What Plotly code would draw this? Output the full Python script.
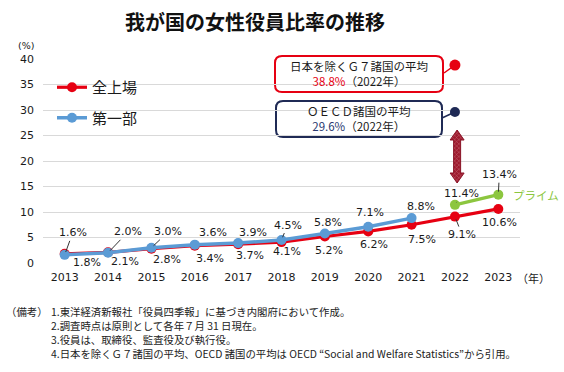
import plotly.graph_objects as go

# ---------------- data ----------------
years_all = [2013, 2014, 2015, 2016, 2017, 2018, 2019, 2020, 2021, 2022, 2023]
all_listed = [1.8, 2.1, 2.8, 3.4, 3.7, 4.1, 5.2, 6.2, 7.5, 9.1, 10.6]   # 全上場
years_first = [2013, 2014, 2015, 2016, 2017, 2018, 2019, 2020, 2021]
first_section = [1.6, 2.0, 3.0, 3.6, 3.9, 4.5, 5.8, 7.1, 8.8]            # 第一部
years_prime = [2022, 2023]
prime = [11.4, 13.4]                                                    # プライム
ref_year = 2022
g7_avg = 38.8
oecd_avg = 29.6
y_ticks = [0, 5, 10, 15, 20, 25, 30, 35, 40]

# ---------------- styles ----------------
RED = "#e60012"
BLUE = "#5b9bd5"
GREEN = "#8cc63f"
NAVY = "#1f2a55"
TXT = "#1a1a1a"
NUMF = "DejaVu Sans"
JPF = "Noto Sans CJK JP"

# label offsets (pixels: dx right, dy down) and whether a leader line is drawn
first_off = [(8, -22, True), (20, -21, True), (17, -16, True), (18, -12, False), (15, -11, False),
             (6, -15, True), (3, -11, False), (2, -14, False), (9, -12, False)]
all_off = [(22, 9, False), (17, 9.5, False), (16, 11, False), (15, 12.5, False), (12, 11, False),
           (5, 9.5, False), (4, 14.5, False), (5.5, 13.5, False), (10, 14.5, False), (7, 18, True),
           (1.5, 14, False)]
prime_off = [(7, -11, True), (1, -20, True)]

# plot area in pixels
L, R, T, B = 43, 520, 59, 263
W, H = 564, 372
px_per_year = (R - L) / 11.0
px_per_unit = (B - T) / 40.0


def px2x(p):
    return 2013 + (p - (L + px_per_year / 2)) / px_per_year


def px2y(p):
    return (B - p) / px_per_unit


def PX(p):
    return (p - L) / (R - L)


def PY(p):
    return (B - p) / (B - T)


fig = go.Figure()

fig.add_trace(go.Scatter(
    x=years_all, y=all_listed, mode="lines+markers", name="全上場",
    line=dict(color=RED, width=3.2), marker=dict(size=10, color=RED),
    legendgroup="a", cliponaxis=False))
fig.add_trace(go.Scatter(
    x=years_first, y=first_section, mode="lines+markers", name="第一部",
    line=dict(color=BLUE, width=3.5), marker=dict(size=10, color=BLUE),
    legendgroup="b", cliponaxis=False))
fig.add_trace(go.Scatter(
    x=years_prime, y=prime, mode="lines+markers", name="プライム",
    line=dict(color=GREEN, width=3.2), marker=dict(size=10, color=GREEN),
    showlegend=False, cliponaxis=False))
fig.add_trace(go.Scatter(
    x=[ref_year], y=[g7_avg], mode="markers", marker=dict(size=11, color=RED),
    showlegend=False, cliponaxis=False))
fig.add_trace(go.Scatter(
    x=[ref_year], y=[oecd_avg], mode="markers", marker=dict(size=10, color=NAVY),
    showlegend=False, cliponaxis=False))

# double-headed hatched arrow
cx = ref_year + 0.05
top, bot = px2y(130), px2y(183)
hw, sw = 7 / px_per_year, 3.5 / px_per_year
hh = 10 / px_per_unit
ax_x = [cx, cx + hw, cx + sw, cx + sw, cx + hw, cx, cx - hw, cx - sw, cx - sw, cx - hw, cx]
ax_y = [top, top - hh, top - hh, bot + hh, bot + hh, bot, bot + hh, bot + hh, top - hh, top - hh, top]
fig.add_trace(go.Scatter(
    x=ax_x, y=ax_y, mode="lines", fill="toself", fillcolor="#9e1a2e",
    fillpattern=dict(shape="x", bgcolor="#9e1a2e", fgcolor="#f2c6cc", size=3, solidity=0.25),
    line=dict(color="#8a1226", width=1), showlegend=False, hoverinfo="skip", cliponaxis=False))

ann = []


def add_labels(xs, ys, offs):
    for x, v, (dx, dy, lead) in zip(xs, ys, offs):
        if lead:
            ann.append(dict(x=x, y=v, text=f"{v:.1f}%", showarrow=True, arrowhead=0,
                            arrowwidth=1, arrowcolor="#333333", ax=dx, ay=dy, standoff=3,
                            font=dict(family=NUMF, size=11, color=TXT)))
        else:
            ann.append(dict(x=x, y=v, text=f"{v:.1f}%", showarrow=False,
                            xanchor="center", yanchor="middle",
                            xshift=dx, yshift=-dy,
                            font=dict(family=NUMF, size=11, color=TXT)))


add_labels(years_first, first_section, first_off)
add_labels(years_all, all_listed, all_off)
add_labels(years_prime, prime, prime_off)

# プライム label
ann.append(dict(x=years_prime[-1], y=prime[-1], text="プライム", showarrow=False,
                xanchor="left", yanchor="middle", xshift=13, yshift=0,
                font=dict(family=JPF, size=11.5, color=GREEN)))

# box texts
ann.append(dict(xref="paper", yref="paper", x=PX(359), y=PY(73.5), xanchor="center", yanchor="middle",
                text=f"日本を除くＧ７諸国の平均<br><span style='color:{RED}'>{g7_avg:.1f}%</span>（{ref_year}年）",
                showarrow=False, align="center", font=dict(family=JPF, size=11.5, color=TXT)))
ann.append(dict(xref="paper", yref="paper", x=PX(359), y=PY(118.5), xanchor="center", yanchor="middle",
                text=f"ＯＥＣＤ諸国の平均<br><span style='color:#2b3a70'>{oecd_avg:.1f}%</span>（{ref_year}年）",
                showarrow=False, align="center", font=dict(family=JPF, size=11.5, color=TXT)))

# title and axis unit labels
ann.append(dict(xref="paper", yref="paper", x=PX(255), y=PY(22), xanchor="center", yanchor="middle",
                text="<b>我が国の女性役員比率の推移</b>", showarrow=False,
                font=dict(family=JPF, size=20, color="#111111")))
ann.append(dict(xref="paper", yref="paper", x=PX(26), y=PY(45), xanchor="center", yanchor="middle",
                text="(%)", showarrow=False, font=dict(family=NUMF, size=9.5, color=TXT)))
ann.append(dict(xref="paper", yref="paper", x=PX(533), y=PY(278), xanchor="center", yanchor="middle",
                text="（年）", showarrow=False, font=dict(family=JPF, size=11, color=TXT)))

# notes
notes = ["（備考）", "1.東洋経済新報社「役員四季報」に基づき内閣府において作成。",
         "2.調査時点は原則として各年７月 31 日現在。",
         "3.役員は、取締役、監査役及び執行役。",
         "4.日本を除くＧ７諸国の平均、OECD 諸国の平均は OECD “Social and Welfare Statistics”から引用。"]
note_y = [311, 311, 325.5, 339.5, 353.5]
note_x = [4, 49, 49, 49, 49]
for t, xx, yy in zip(notes, note_x, note_y):
    ann.append(dict(xref="paper", yref="paper", x=PX(xx), y=PY(yy),
                    xanchor="left", yanchor="middle", text=t, showarrow=False,
                    font=dict(family=JPF, size=10.4, color="#222222")))


# rounded boxes as shapes (paper coords)
def rbox(x0, y0, x1, y1, r):
    X, Y = PX, PY
    return (f"M {X(x0 + r)},{Y(y0)} L {X(x1 - r)},{Y(y0)} Q {X(x1)},{Y(y0)} {X(x1)},{Y(y0 + r)} "
            f"L {X(x1)},{Y(y1 - r)} Q {X(x1)},{Y(y1)} {X(x1 - r)},{Y(y1)} "
            f"L {X(x0 + r)},{Y(y1)} Q {X(x0)},{Y(y1)} {X(x0)},{Y(y1 - r)} "
            f"L {X(x0)},{Y(y0 + r)} Q {X(x0)},{Y(y0)} {X(x0 + r)},{Y(y0)} Z")


shapes = [
    dict(type="path", xref="paper", yref="paper", path=rbox(275, 56, 443, 92, 7),
         line=dict(color=RED, width=2), fillcolor="white", layer="below"),
    dict(type="path", xref="paper", yref="paper", path=rbox(276, 101, 442, 137, 7),
         line=dict(color=NAVY, width=2), fillcolor="white", layer="below"),
    dict(type="line", xref="x", yref="y", x0=px2x(444), y0=px2y(73), x1=ref_year, y1=g7_avg,
         line=dict(color=RED, width=1.5)),
    dict(type="line", xref="x", yref="y", x0=px2x(442), y0=px2y(118), x1=ref_year, y1=oecd_avg,
         line=dict(color=NAVY, width=1.5)),
]

fig.update_layout(
    width=W, height=H,
    margin=dict(l=L, r=W - R, t=T, b=H - B),
    paper_bgcolor="white", plot_bgcolor="white",
    annotations=ann, shapes=shapes,
    showlegend=True,
    legend=dict(x=PX(52), y=PY(71), xanchor="left", yanchor="top",
                font=dict(family=JPF, size=15, color=TXT), traceorder="grouped",
                tracegroupgap=8, bgcolor="rgba(0,0,0,0)", itemwidth=30),
    xaxis=dict(range=[2012.5, 2023.5], tickvals=years_all, ticktext=[str(y) for y in years_all],
               showgrid=False, zeroline=False, showline=False,
               tickfont=dict(family=NUMF, size=11, color=TXT), ticks="", ticklabelstandoff=6),
    yaxis=dict(range=[0, 40], tickvals=y_ticks, showgrid=True, gridcolor="#d9d9d9", gridwidth=1,
               zeroline=False, showline=False,
               tickfont=dict(family=NUMF, size=11, color=TXT), ticks="", ticklabelstandoff=8),
)

fig.write_html("out.html", config={"displayModeBar": False},
               post_script="document.body.style.margin='0px';")
